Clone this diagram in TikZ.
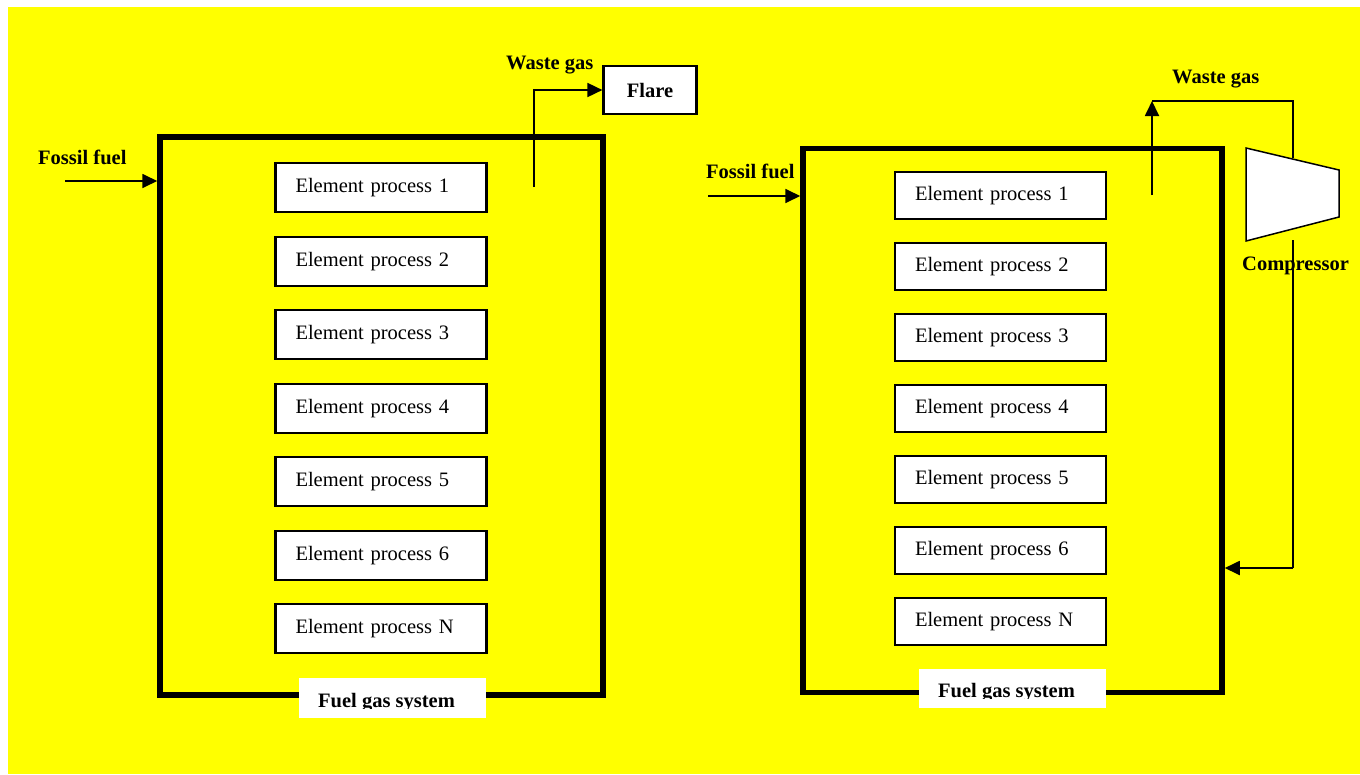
\documentclass[tikz,border=0pt]{standalone}
\usepackage{fontspec}
\setmainfont{Liberation Serif}
\usetikzlibrary{arrows.meta}
\definecolor{bgyellow}{RGB}{255,255,0}
\tikzset{
  lbl/.style={font=\fontsize{20.5}{24}\selectfont\bfseries, inner sep=0pt},
  proc/.style={draw, line width=2.2pt, fill=white, minimum height=#1, inner xsep=20pt, inner ysep=0pt,
    text width=171pt, align=left, font=\fontsize{20.5}{24}\selectfont},
  sysbox/.style={draw, line width=5.5pt, inner sep=0pt},
  labbox/.style={fill=white, inner sep=0pt},
  arr/.style={line width=1.8pt, -{Triangle[length=15pt,width=14pt]}},
  flow/.style={line width=1.8pt},
}
\begin{document}
\begin{tikzpicture}[x=1pt,y=-1pt]
\useasboundingbox (0,0) rectangle (1360,774);
\fill[white] (0,0) rectangle (1360,774);
\fill[bgyellow] (8,7) rectangle (1360,774);

% ---------- left system ----------
\node[sysbox, minimum width=443pt, minimum height=558pt] (SL) at (381.5,416) {};
\node[proc=49pt] (L1) at (381,187.5) {Element process 1};
\node[proc=49pt] (L2) at (381,261.5) {Element process 2};
\node[proc=49pt] (L3) at (381,334.5) {Element process 3};
\node[proc=49pt] (L4) at (381,408.5) {Element process 4};
\node[proc=49pt] (L5) at (381,481.5) {Element process 5};
\node[proc=49pt] (L6) at (381,555.5) {Element process 6};
\node[proc=49pt] (LN) at (381,628.5) {Element process N};

\node[labbox, minimum width=187pt, minimum height=40pt] (FL) at (392.5,698) {};
\begin{scope}
  \clip (299,678) rectangle (486,708.5);
  \node[lbl, anchor=base west] (FLt) at (318,707) {Fuel gas system};
\end{scope}

\node[lbl, anchor=base west] (ffL) at (38,164) {Fossil fuel};
\coordinate (ffLs) at (65,181);
\draw[arr] (ffLs) -- (SL.west |- ffLs);

\node[draw, line width=2.2pt, fill=white, minimum width=93pt, minimum height=48pt,
      font=\fontsize{20.5}{24}\selectfont\bfseries] (Flare) at (650,90) {Flare};
\node[lbl, anchor=base west] (wgL) at (506,69) {Waste gas};
\coordinate (wgLs) at (534,187);
\draw[arr] (wgLs) |- (Flare.west);

% ---------- right system ----------
\node[sysbox, minimum width=419pt, minimum height=544pt] (SR) at (1012.5,420.5) {};
\node[proc=47pt] (R1) at (1000.5,195.5) {Element process 1};
\node[proc=47pt] (R2) at (1000.5,266.5) {Element process 2};
\node[proc=47pt] (R3) at (1000.5,337.5) {Element process 3};
\node[proc=47pt] (R4) at (1000.5,408.5) {Element process 4};
\node[proc=47pt] (R5) at (1000.5,479.5) {Element process 5};
\node[proc=47pt] (R6) at (1000.5,550.5) {Element process 6};
\node[proc=47pt] (RN) at (1000.5,621.5) {Element process N};

\node[labbox, minimum width=187pt, minimum height=39pt] (FR) at (1012.5,688.5) {};
\begin{scope}
  \clip (919,669) rectangle (1106,698.5);
  \node[lbl, anchor=base west] (FRt) at (938,697) {Fuel gas system};
\end{scope}

\node[lbl, anchor=base west] (ffR) at (706,178) {Fossil fuel};
\coordinate (ffRs) at (708,196);
\draw[arr] (ffRs) -- (SR.west |- ffRs);

\node[lbl, anchor=base west] (wgR) at (1172,83) {Waste gas};
\coordinate (wgRs) at (1152,195);
\coordinate (wgRt) at (1152,101);
\draw[arr] (wgRs) -- (wgRt);

% compressor
\coordinate (C1) at (1246,148);
\coordinate (C2) at (1339,170);
\coordinate (C3) at (1339,217);
\coordinate (C4) at (1246,241);
\draw[line width=1.5pt, fill=white] (C1) -- (C2) -- (C3) -- (C4) -- cycle;
\coordinate (Cin) at (1293,158);
\coordinate (Cout) at (1293,240);
\coordinate (Cret) at (1293,568);
\draw[flow] (wgRt) -| (Cin);
\draw[flow] (Cout) -- (Cret);
\draw[arr] (Cret) -- (SR.east |- Cret);
\node[lbl, anchor=base west] (comp) at (1242,270) {Compressor};
\end{tikzpicture}
\end{document}
